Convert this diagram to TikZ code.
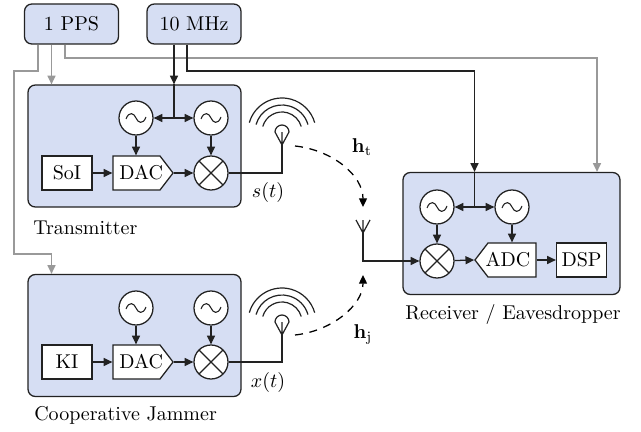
\documentclass[tikz,border=0pt]{standalone}
\usepackage{tikz}
\usetikzlibrary{arrows.meta,shapes.symbols,calc}
\definecolor{boxfill}{HTML}{D6DEF3}
\definecolor{syncgray}{HTML}{999999}
\definecolor{linedark}{HTML}{222222}
\newcommand{\T}[1]{\scalebox{1.5}{#1}}
\tikzset{
  tip/.style={-{Triangle[length=6.5pt,width=6pt]}},
  both/.style={{Triangle[length=6.5pt,width=6pt]}-{Triangle[length=6.5pt,width=6pt]}},
  sig/.style={draw=linedark,line width=.95pt},
  sync/.style={color=syncgray,line width=.95pt},
  ref/.style={color=linedark,line width=.95pt},
  clock/.style={draw=linedark,rounded corners=5.5pt,fill=boxfill,line width=.95pt,minimum width={94*.75pt},minimum height={40*.75pt},inner sep=0pt},
  unit/.style={draw=linedark,rounded corners=5.5pt,fill=boxfill,line width=.95pt,minimum width={213*.75pt},minimum height={122*.75pt},inner sep=0pt},
  wide unit/.style={unit,minimum width={217*.75pt}},
  osc/.style={circle,draw=linedark,fill=white,line width=.95pt,minimum size={34*.75pt},inner sep=0pt,path picture={
      \draw[line width=.8pt,shift={(path picture bounding box.center)}] (-10,1) .. controls (-7,-7) and (-2,-5) .. (0,0) .. controls (2,5) and (7,7) .. (10,-1);}},
  mix/.style={circle,draw=linedark,fill=white,line width=.95pt,minimum size={34*.75pt},inner sep=0pt,path picture={
      \draw (path picture bounding box.north west) -- (path picture bounding box.south east)
            (path picture bounding box.north east) -- (path picture bounding box.south west);}},
  blockbox/.style={draw=linedark,fill=white,line width=.95pt,minimum width={50*.75pt},minimum height={34*.75pt},inner sep=0pt},
  conv/.style={draw=linedark,fill=white,line width=.95pt,signal,signal pointer angle=105,minimum height={34*.75pt},inner sep=0pt},
  lab/.style={inner sep=0pt},
  chan/.style={dashed,dash pattern=on 6pt off 5pt,line width=.95pt,tip},
}
\newcommand{\antenna}[2]{%
  \draw[sig,line width=.9pt] (#1,#2-13) -- (#1,#2)
     (#1-7,#2-13) -- (#1,#2) -- (#1+7,#2-13);}
\newcommand{\waves}[2]{%
  \foreach \rr in {34,27,20} {\draw[line width=.9pt,draw=linedark] (#1,#2)+(196:\rr) arc[start angle=196,end angle=344,radius=\rr];}
  \draw[line width=.9pt,draw=linedark] (#1,#2)+(180:7) arc[start angle=180,end angle=360,radius=7];}
\begin{document}
\begin{tikzpicture}[x=.75pt,y=-.75pt]
\useasboundingbox (0,0) rectangle (641,431);
% clocks
\node[clock] (pps) at (71.5,24) {\T{1 PPS}};
\node[clock] (mhz) at (194,24) {\T{10 MHz}};
% units
\node[unit] (tx) at (134.5,146) {};
\node[unit] (jam) at (134.5,335.5) {};
\node[wide unit] (rx) at (511.5,233.5) {};
% transmitter
\node[osc] (txo1) at (136,118) {};
\node[osc] (txo2) at (211,118) {};
\node[mix] (txm) at (211,173) {};
\node[blockbox] (soi) at (67,173) {\T{SoI}};
\node[conv,signal to=east,signal from=nowhere] (txd) at (136.5,173) {\makebox[35.25pt][c]{\hspace*{7pt}\T{DAC}}};
% jammer
\node[osc] (jo1) at (136,308) {};
\node[osc] (jo2) at (211,308) {};
\node[mix] (jm) at (211,362) {};
\node[blockbox] (ki) at (67,362) {\T{KI}};
\node[conv,signal to=east,signal from=nowhere] (jd) at (136.5,362) {\makebox[35.25pt][c]{\hspace*{7pt}\T{DAC}}};
% receiver
\node[osc] (ro1) at (437,207) {};
\node[osc] (ro2) at (512,207) {};
\node[mix] (rm) at (437,261) {};
\node[conv,signal to=west,signal from=nowhere] (ra) at (512,260) {\makebox[36pt][c]{\T{ADC}\hspace*{6pt}}};
\node[blockbox] (dsp) at (581.5,260) {\T{DSP}};
% coordinates
\coordinate (jt) at (174,118);
\coordinate (jr) at (474.5,207);
\coordinate (mhzb) at (187,71);
\coordinate (ppsa) at (38,71);
\coordinate (ppsb) at (14,254);
\coordinate (ppsc) at (51.5,84);
\coordinate (ppsd) at (65,58);
\coordinate (rxs) at (597,172);
\coordinate (antT) at (282,145);
\coordinate (antJ) at (282,335);
\coordinate (antR) at (363,233);
% sync
\draw[sync,tip] (pps.south -| ppsa) -- (ppsa) -- (ppsa -| ppsb) -- (ppsb) -- (ppsb -| ppsc) -- (jam.north -| ppsc);
\draw[sync,tip] (pps.south -| ppsc) -- (tx.north -| ppsc);
\draw[sync,tip] (pps.south -| ppsd) -- (ppsd) -| (rx.north -| rxs);
% reference
\draw[ref,tip] (mhz.south -| jt) -- (tx.north -| jt);
\draw[ref] (tx.north -| jt) -- (jt);
\draw[ref,both] (txo1) -- (txo2);
\draw[ref,tip] (mhz.south -| mhzb) -- (mhzb) -| (rx.north -| jr);
\draw[ref] (rx.north -| jr) -- (jr);
\draw[ref,both] (ro1) -- (ro2);
% tx chain
\draw[ref,tip] (soi) -- (txd.west |- soi);
\draw[ref,tip] (txo1) -- (txo1 |- txd.north);
\draw[ref,tip] (txo2) -- (txm);
\draw[ref,tip] (txd.east) -- (txm);
\draw[sig] (txm) -| (antT);
% jammer chain
\draw[ref,tip] (ki) -- (jd.west |- ki);
\draw[ref,tip] (jo1) -- (jo1 |- jd.north);
\draw[ref,tip] (jo2) -- (jm);
\draw[ref,tip] (jd.east) -- (jm);
\draw[sig] (jm) -| (antJ);
% rx chain
\draw[ref,tip] (ro1) -- (rm);
\draw[ref,tip] (ro2) -- (ro2 |- ra.north);
\draw[ref,tip] (rm) -- (ra.west);
\draw[ref,tip] (ra.east |- dsp) -- (dsp);
\draw[ref,tip] (antR) |- (rm);
% antennas
\antenna{282}{145}\waves{282}{132}
\antenna{282}{335}\waves{282}{322}
\antenna{363}{233}
% channels
\coordinate (c1) at (295,146);
\coordinate (c2) at (363,207);
\coordinate (c3) at (295,335);
\coordinate (c4) at (363,275);
\draw[chan] (c1) .. controls (332,150) and (363,175) .. (c2);
\draw[chan] (c3) .. controls (332,331) and (363,305) .. (c4);
% labels
\node[lab] (ht) at (362,147) {\T{$\mathbf{h}_{\mathrm{t}}$}};
\node[lab] (hj) at (363,334) {\T{$\mathbf{h}_{\mathrm{j}}$}};
\node[lab] (st) at (268,192) {\T{$s(t)$}};
\node[lab] (xt) at (268,382) {\T{$x(t)$}};
\node[lab,anchor=west] (ltx) at (33,228) {\T{Transmitter}};
\node[lab,anchor=west] (ljam) at (34,415) {\T{Cooperative Jammer}};
\node[lab] (lrx) at (513,314) {\T{Receiver / Eavesdropper}};
\end{tikzpicture}
\end{document}
